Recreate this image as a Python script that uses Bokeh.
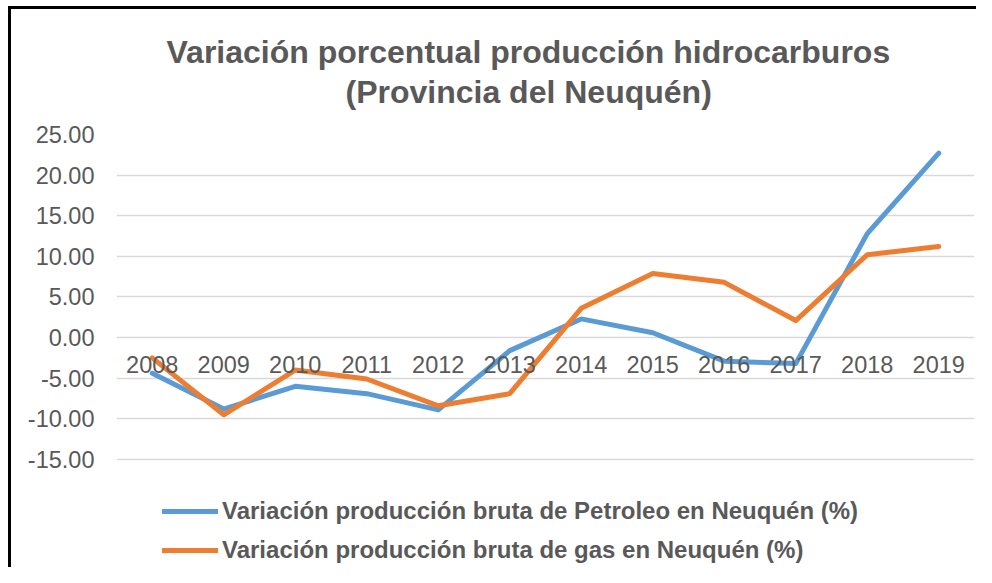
from bokeh.plotting import figure
from bokeh.models import (FactorRange, Range1d, PrintfTickFormatter, Title,
                          Legend, LegendItem, FixedTicker)
from bokeh.embed import file_html
from bokeh.resources import INLINE

years = ["2008", "2009", "2010", "2011", "2012", "2013", "2014", "2015",
         "2016", "2017", "2018", "2019"]
petroleo = [-4.4, -8.8, -6.0, -6.9, -8.9, -1.6, 2.3, 0.6, -2.9, -3.2, 12.8, 22.7]
gas = [-2.5, -9.5, -4.0, -5.1, -8.4, -6.9, 3.6, 7.9, 6.8, 2.1, 10.2, 11.2]
y_ticks = [-15, -10, -5, 0, 5, 10, 15, 20, 25]

TXT = "#595959"
FONT = "Liberation Sans"

# frame extends below the lowest gridline so the legend can sit inside it
p = figure(width=976, height=567, output_backend="svg", toolbar_location=None,
           x_range=FactorRange(factors=years, range_padding=0),
           y_range=Range1d(-28.3, 25),
           min_border_left=116, min_border_right=2,
           min_border_top=134, min_border_bottom=0)
p.outline_line_color = None
p.border_fill_color = None
p.styles = {
    "background-image": "linear-gradient(#000,#000), linear-gradient(#000,#000)",
    "background-size": "100% 3px, 3px 100%",
    "background-position": "8px 6px, 8px 6px",
    "background-repeat": "no-repeat",
}

p.title.text = ""
spacer = Title(text=" ", text_font_size="1px", standoff=22)
t2 = Title(text="(Provincia del Neuquén)", align="left",
           text_font=FONT, text_font_size="32px", text_font_style="bold",
           text_color=TXT, offset=229, standoff=0)
t1 = Title(text="Variación porcentual producción hidrocarburos", align="left",
           text_font=FONT, text_font_size="32px", text_font_style="bold",
           text_color=TXT, offset=50, standoff=3)
p.add_layout(spacer, "above")
p.add_layout(t2, "above")
p.add_layout(t1, "above")

# y axis
p.yaxis.ticker = FixedTicker(ticks=y_ticks)
p.yaxis.formatter = PrintfTickFormatter(format="%.2f")
p.yaxis.axis_line_color = None
p.yaxis.major_tick_line_color = None
p.yaxis.minor_tick_line_color = None
p.yaxis.major_label_standoff = 16
p.yaxis.major_label_text_font = FONT
p.yaxis.major_label_text_font_size = "23.5px"
p.yaxis.major_label_text_color = TXT

# category axis crossing at zero
p.xaxis.fixed_location = 0
p.xaxis.axis_line_color = None
p.xaxis.major_tick_line_color = None
p.xaxis.minor_tick_line_color = None
p.xaxis.major_label_standoff = 12
p.xaxis.major_label_text_font = FONT
p.xaxis.major_label_text_font_size = "23.5px"
p.xaxis.major_label_text_color = TXT

p.xgrid.grid_line_color = None
p.ygrid.ticker = FixedTicker(ticks=y_ticks)
p.ygrid.grid_line_color = "#D9D9D9"
p.ygrid.grid_line_width = 1.5

r1 = p.line(years, petroleo, line_color="#5B9BD5", line_width=5,
            line_cap="round", line_join="round")
r2 = p.line(years, gas, line_color="#ED7D31", line_width=5,
            line_cap="round", line_join="round")

legend = Legend(items=[
    LegendItem(label="Variación producción bruta de Petroleo en Neuquén (%)", renderers=[r1]),
    LegendItem(label="Variación producción bruta de gas en Neuquén (%)", renderers=[r2]),
], location=(46, 2), orientation="vertical",
    glyph_width=56, glyph_height=30, label_height=30, spacing=9,
    label_standoff=4, padding=0, margin=0,
    label_text_font=FONT, label_text_font_size="24px",
    label_text_font_style="bold", label_text_color=TXT,
    border_line_color=None, background_fill_alpha=0)
p.add_layout(legend, "center")

open("out.html", "w").write(file_html(p, INLINE))
